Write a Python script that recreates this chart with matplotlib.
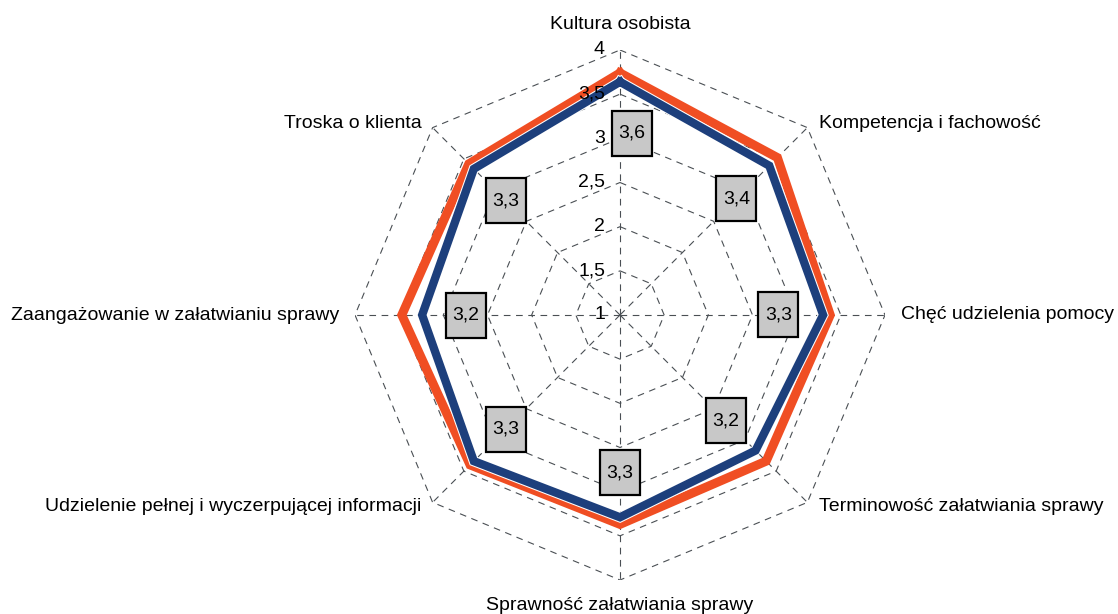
import numpy as np
import matplotlib
matplotlib.use("Agg")
import matplotlib.pyplot as plt
import matplotlib.patheffects as pe
from matplotlib.patches import Rectangle

plt.rcParams['font.family'] = ['Liberation Sans', 'DejaVu Sans']

# Categories (clockwise from the top)
categories = [
    "Kultura osobista",
    "Kompetencja i fachowość",
    "Chęć udzielenia pomocy",
    "Terminowość załatwiania sprawy",
    "Sprawność załatwiania sprawy",
    "Udzielenie pełnej i wyczerpującej informacji",
    "Zaangażowanie w załatwianiu sprawy",
    "Troska o klienta",
]

# Series values
orange_values = [3.74, 3.52, 3.38, 3.34, 3.37, 3.40, 3.47, 3.42]
blue_values = [3.64, 3.39, 3.30, 3.17, 3.29, 3.34, 3.24, 3.34]

# Radial scale ticks
ring_levels = [1, 1.5, 2, 2.5, 3, 3.5, 4]
ring_labels = ["1", "1,5", "2", "2,5", "3", "3,5", "4"]

r_min = 1.0
n = len(categories)
angles = np.arange(n) * 2 * np.pi / n


def to_xy(values, ang=angles):
    r = np.asarray(values, dtype=float) - r_min
    return r * np.sin(ang), r * np.cos(ang)


fig = plt.figure(figsize=(11.18, 6.14), dpi=100)
ax = fig.add_axes([355 / 1118, 34 / 614, 530 / 1118, 530 / 614])
ax.set_xlim(-3, 3)
ax.set_ylim(-3, 3)
ax.set_aspect('equal')
ax.axis('off')
px = 6 / 530  # one pixel in data units

grid_color = '#4a4f54'
dash = (0, (6, 5))

# octagon rings
closed = np.append(angles, angles[0])
for lev in ring_levels[1:]:
    gx, gy = to_xy([lev] * (n + 1), closed)
    ax.plot(gx, gy, color=grid_color, lw=0.8, linestyle=dash, zorder=1)

# spokes
for a in angles:
    sx, sy = to_xy([r_min, ring_levels[-1]], np.array([a, a]))
    ax.plot(sx, sy, color=grid_color, lw=0.8, linestyle=dash, zorder=1)

# radial tick labels along the top spoke
for lev, lab in zip(ring_levels, ring_labels):
    ax.text(-15 * px, lev - r_min, lab, ha='right', va='center', fontsize=14,
            color='black', zorder=8)

# series
ox, oy = to_xy(orange_values + orange_values[:1], closed)
ax.plot(ox, oy, color='#F04E23', lw=6.5, solid_joinstyle='miter', zorder=3)

bx, by = to_xy(blue_values + blue_values[:1], closed)
ax.plot(bx, by, color='#1D3F7C', lw=6, solid_joinstyle='miter', zorder=4,
        path_effects=[pe.Stroke(linewidth=7.5, foreground='white'), pe.Normal()])

# data labels of the blue series
lx, ly = to_xy(r_min + 0.78 * (np.array(blue_values) - r_min))
nudge = {0: 12}  # first label sits right of the spoke
bw, bh = 40 * px, 45 * px
for i, (x, y, v) in enumerate(zip(lx, ly, blue_values)):
    x = x + nudge.get(i, 0) * px
    ax.add_patch(Rectangle((x - bw / 2, y - bh / 2), bw, bh, fc='#C8C8C8',
                           ec='black', lw=1.6, zorder=6))
    ax.text(x, y, f"{v:.1f}".replace('.', ','), ha='center', va='center',
            fontsize=14, zorder=7)

# category labels
for a, name in zip(angles, categories):
    s, c = np.sin(a), np.cos(a)
    on_vertical = abs(s) < 1e-6
    x = 3.18 * s
    y = 3.07 * c + (0.22 * np.sign(c) if on_vertical else 0)
    if on_vertical:
        ha = 'center'
    elif s > 0:
        ha = 'left'
    else:
        ha = 'right'
    ax.text(x, y, name, ha=ha, va='center', fontsize=14,
            color='black', clip_on=False)

fig.savefig("out.png", dpi=100)
